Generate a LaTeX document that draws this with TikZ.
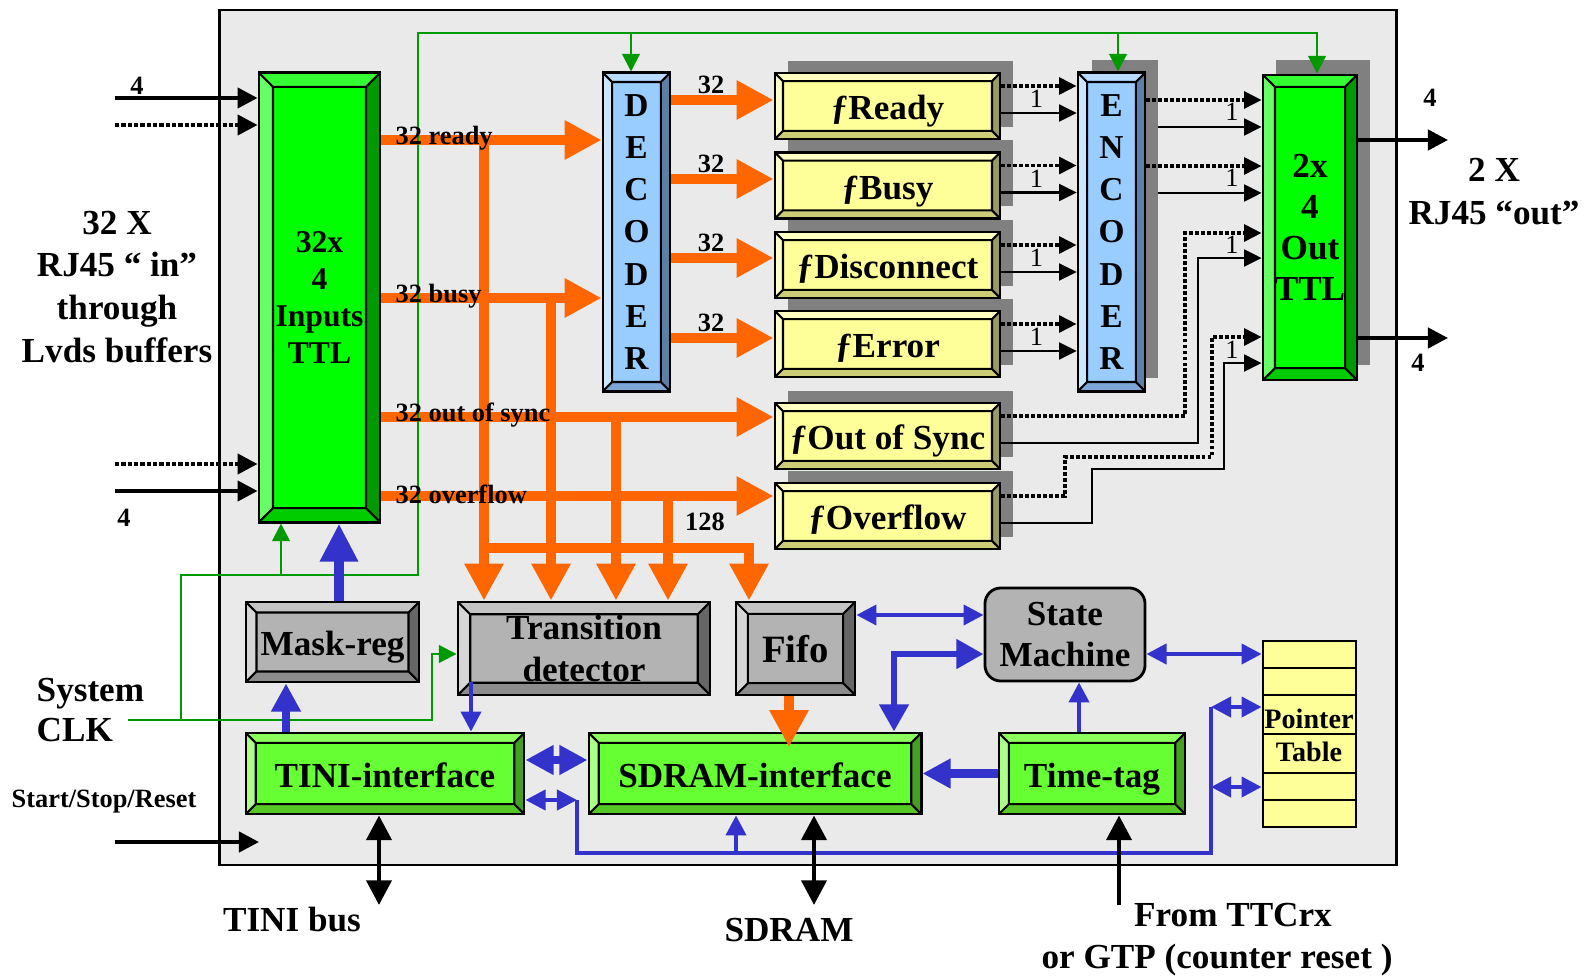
\documentclass[tikz,border=0pt]{standalone}
\usepackage{fontspec}
\setmainfont{Liberation Serif}
\usetikzlibrary{calc, positioning}
\usetikzlibrary{arrows.meta}

\definecolor{boardgray}{HTML}{EAEAEA}
\definecolor{shadowgray}{HTML}{808080}
\definecolor{busorange}{HTML}{FF6600}
\definecolor{linkblue}{HTML}{3333CC}
\definecolor{clkgreen}{HTML}{009900}
\definecolor{ttlface}{HTML}{00FF00}
\definecolor{ttltop}{HTML}{33FF33}
\definecolor{ttlleft}{HTML}{66FF66}
\definecolor{ttlright}{HTML}{009900}
\definecolor{ttlbot}{HTML}{00CC00}
\definecolor{codeface}{HTML}{99CCFF}
\definecolor{codetop}{HTML}{B8DBFF}
\definecolor{codeleft}{HTML}{CCE5FF}
\definecolor{coderight}{HTML}{5C7FA6}
\definecolor{codebot}{HTML}{7EA6D6}
\definecolor{flagface}{HTML}{FFFF99}
\definecolor{flagtop}{HTML}{FFFFC2}
\definecolor{flagleft}{HTML}{FFFFCC}
\definecolor{flagright}{HTML}{999966}
\definecolor{flagbot}{HTML}{CCCC77}
\definecolor{greyface}{HTML}{B3B3B3}
\definecolor{greytop}{HTML}{C4C4C4}
\definecolor{greyleft}{HTML}{D6D6D6}
\definecolor{greyright}{HTML}{666666}
\definecolor{greybot}{HTML}{8C8C8C}
\definecolor{ifface}{HTML}{66FF33}
\definecolor{iftop}{HTML}{8CFF5C}
\definecolor{ifleft}{HTML}{ADFF8A}
\definecolor{ifright}{HTML}{44A020}
\definecolor{ifbot}{HTML}{55C825}

\begin{document}
\begin{tikzpicture}[x=0.01cm,y=-0.01cm,
  bevel/.style n args={5}{path picture={
    \coordinate (nw) at (path picture bounding box.north west);
    \coordinate (ne) at (path picture bounding box.north east);
    \coordinate (sw) at (path picture bounding box.south west);
    \coordinate (se) at (path picture bounding box.south east);
    \fill[#2] (nw) -- (ne) -- ([shift={(-#1,-#1)}]ne) -- ([shift={(#1,-#1)}]nw) -- cycle;
    \fill[#3] (nw) -- ([shift={(#1,-#1)}]nw) -- ([shift={(#1,#1)}]sw) -- (sw) -- cycle;
    \fill[#4] (ne) -- (se) -- ([shift={(-#1,#1)}]se) -- ([shift={(-#1,-#1)}]ne) -- cycle;
    \fill[#5] (sw) -- ([shift={(#1,#1)}]sw) -- ([shift={(-#1,#1)}]se) -- (se) -- cycle;
    \draw[line width=0.6pt] ([shift={(#1,-#1)}]nw) rectangle ([shift={(-#1,#1)}]se)
      (nw) -- ++(#1,-#1) (ne) -- ++(-#1,-#1) (sw) -- ++(#1,#1) (se) -- ++(-#1,#1);
  }},
  ttlbox/.style={draw, line width=0.8pt, fill=ttlface, inner sep=0pt, align=center,
    bevel={#1}{ttltop}{ttlleft}{ttlright}{ttlbot}},
  codebox/.style={draw, line width=0.8pt, fill=codeface, inner sep=0pt, align=center,
    minimum width=0.67cm, minimum height=3.18cm, font=\fontsize{9.5}{12}\selectfont\bfseries,
    bevel={2.6pt}{codetop}{codeleft}{coderight}{codebot}},
  flagbox/.style={draw, line width=0.8pt, fill=flagface, inner sep=0pt,
    minimum width=2.25cm, minimum height=0.66cm, font=\fontsize{10}{12}\selectfont\bfseries,
    text height=7.9pt, text depth=0pt,
    bevel={2.3pt}{flagtop}{flagleft}{flagright}{flagbot}},
  greybox/.style={draw, line width=0.8pt, fill=greyface, inner sep=0pt, align=center,
    font=\fontsize{10}{12}\selectfont\bfseries,
    bevel={#1}{greytop}{greyleft}{greyright}{greybot}},
  ifbox/.style={draw, line width=0.8pt, fill=ifface, inner sep=0pt, minimum height=0.81cm,
    font=\fontsize{10}{12}\selectfont\bfseries, text height=7.9pt, text depth=0pt,
    bevel={2.8pt}{iftop}{ifleft}{ifright}{ifbot}},
  numlbl/.style={font=\fontsize{7.5}{9}\selectfont\bfseries, inner sep=0pt},
  onelbl/.style={font=\fontsize{7.5}{9}\selectfont, inner sep=0pt},
  biglbl/.style={font=\fontsize{10}{12.2}\selectfont\bfseries, align=center, inner sep=0pt},
  obus/.style={draw=busorange, line width=2.85pt, >={Triangle[length=10.5pt,width=10.5pt]}},
  bthin/.style={draw=linkblue, line width=1.15pt, >={Triangle[length=5.7pt,width=5.7pt]}},
  bmid/.style={draw=linkblue, line width=1.9pt, >={Triangle[length=7.7pt,width=8pt]}},
  bwide/.style={draw=linkblue, line width=2.3pt, >={Triangle[length=8pt,width=8pt]}},
  bfat/.style={draw=linkblue, line width=3pt, >={Triangle[length=10.8pt,width=10.2pt]}},
  clk/.style={draw=clkgreen, line width=0.6pt, >={Triangle[length=5pt,width=5pt]}},
  sig/.style={draw=black, line width=1.2pt, >={Triangle[length=5.7pt,width=5.7pt]}},
  sigdot/.style={sig, dash pattern=on 1.2pt off 0.6pt},
  busio/.style={draw=black, line width=1.4pt, >={Triangle[length=7pt,width=7pt]}},
  link/.style={draw=black, line width=0.65pt, >={Triangle[length=5pt,width=4.8pt]}},
  linkdot/.style={link, line width=1pt, dash pattern=on 1.1pt off 0.6pt}]

\useasboundingbox (0,0) rectangle (1585,976);
\node[draw, line width=0.7pt, fill=boardgray, minimum width=11.76cm, minimum height=8.55cm, inner sep=0pt] (board) at (808,437.5) {};

\foreach \t in {73,152.5,232,311,403,483}
  \fill[shadowgray] (788,\t-12) rectangle (1013,\t+54);
\fill[shadowgray] (1092,60) rectangle (1158,378);
\fill[shadowgray] (1276,60) rectangle (1370,365);

\node[ttlbox=4pt, minimum width=1.21cm, minimum height=4.49cm, font=\fontsize{9}{10.5}\selectfont\bfseries] (inTTL) at (319.5,297.5) {32x\\4\\Inputs\\TTL};
\node[codebox] (dec) at (636.5,232) {D\\E\\C\\O\\D\\E\\R};
\node[codebox] (enc) at (1111.5,232) {E\\N\\C\\O\\D\\E\\R};
\node[ttlbox=3.4pt, minimum width=0.94cm, minimum height=3.05cm, font=\fontsize{10}{11.7}\selectfont\bfseries] (outTTL) at (1310,227.5) {2x\\4\\Out\\TTL};
\node[flagbox] (fready) at (887.5,106) {ƒReady};
\node[flagbox] (fbusy) at (887.5,185.5) {ƒBusy};
\node[flagbox] (fdisc) at (887.5,265) {ƒDisconnect};
\node[flagbox] (ferr) at (887.5,344) {ƒError};
\node[flagbox] (fsync) at (887.5,436) {ƒOut of Sync};
\node[flagbox] (fover) at (887.5,516) {ƒOverflow};

\node[greybox=3pt, minimum width=1.73cm, minimum height=0.80cm, text height=7.9pt, text depth=0pt] (mask) at (332.5,642) {Mask-reg};
\node[greybox=3.5pt, minimum width=2.52cm, minimum height=0.93cm] (trans) at (584,648.5) {Transition\\detector};
\node[greybox=3.4pt, minimum width=1.19cm, minimum height=0.93cm, font=\fontsize{11}{13}\selectfont\bfseries, text height=8pt, text depth=0pt] (fifo) at (795.5,648.5) {Fifo};
\node[draw, line width=0.8pt, fill=greyface, rounded corners=4.5pt, inner sep=0pt, align=center,
  minimum width=1.60cm, minimum height=0.93cm, font=\fontsize{10}{11.4}\selectfont\bfseries] (sm) at (1065,634.5) {State\\Machine};
\node[ifbox, minimum width=2.78cm] (tini) at (385,773.5) {TINI-interface};
\node[ifbox, minimum width=3.32cm] (sdram) at (755,773.5) {SDRAM-interface};
\node[ifbox, minimum width=1.86cm] (ttag) at (1092,773.5) {Time-tag};
\node[draw, line width=0.8pt, fill=flagface, minimum width=0.93cm, minimum height=1.86cm, inner sep=0pt] (ptab) at (1309.5,734) {};
\foreach \y in {668,695,734,773,800}
  \draw[line width=0.8pt] (ptab.west |- 0,\y) -- (ptab.east |- 0,\y);
\node[font=\fontsize{8}{9.4}\selectfont\bfseries, align=center, inner sep=0pt] (ptabtxt) at (1309,735) {Pointer\\Table};

\coordinate (rdy) at (0,140);
\coordinate (bsy) at (0,298);
\coordinate (syn) at (0,417);
\coordinate (ovf) at (0,496);
\coordinate (fj) at (749,548);
\draw[obus,->] (inTTL.east |- rdy) -- (dec.west |- rdy);
\draw[obus,->] (inTTL.east |- bsy) -- (dec.west |- bsy);
\draw[obus,->] (inTTL.east |- syn) -- (fsync.west |- syn);
\draw[obus,->] (inTTL.east |- ovf) -- (fover.west |- ovf);
\draw[obus,->] (484,140) -- (484,0 |- trans.north);
\draw[obus,->] (551,298) -- (551,0 |- trans.north);
\draw[obus,->] (616,417) -- (616,0 |- trans.north);
\draw[obus,->] (668,496) -- (668,0 |- trans.north);
\draw[obus,->] (484,548) -- (fj) -- (fj |- fifo.north);
\foreach \f/\y in {fready/100,fbusy/179,fdisc/258,ferr/338} {
  \draw[obus,->] (dec.east |- 0,\y) -- (\f.west |- 0,\y);
  \node[numlbl] at (711,\y-15) {32};
}
\draw[obus,->] (789,0 |- fifo.south) -- (789,747);

\foreach \f in {fready,fbusy,fdisc,ferr,fsync,fover} {
  \coordinate (\f-d) at ($(\f.east)+(0,-20)$);
  \coordinate (\f-s) at ($(\f.east)+(0,7)$);
}
\foreach \f in {fready,fbusy,fdisc,ferr} {
  \draw[linkdot,->] (\f-d) -- (\f-d -| enc.west);
  \draw[link,->] (\f-s) -- (\f-s -| enc.west);
  \node[onelbl] at ($(\f.east)+(35,-7)$) {1};
}
\draw[linkdot,->] (enc.east |- 0,100) -- (outTTL.west |- 0,100);
\draw[link,->] (enc.east |- 0,127) ++(12,0) -- (outTTL.west |- 0,127);
\draw[linkdot,->] (enc.east |- 0,166) -- (outTTL.west |- 0,166);
\draw[link,->] (enc.east |- 0,193) ++(12,0) -- (outTTL.west |- 0,193);
\draw[linkdot,->] (fsync-d) -| (1185,233) -- (outTTL.west |- 0,233);
\draw[link,->] (fsync-s) -| (1198,258) -- (outTTL.west |- 0,258);
\draw[linkdot,->] (fover-d) -| (1065,457) -| (1212,337) -- (outTTL.west |- 0,337);
\draw[link,->] (fover-s) -| (1092,469) -| (1224,363) -- (outTTL.west |- 0,363);
\foreach \y in {112,178,245,350}
  \node[onelbl] at (1232,\y) {1};

\coordinate (clkin) at (128,720);
\coordinate (ck1) at (181,720);
\coordinate (ck2) at (418,575);
\coordinate (ck3) at (418,33);
\coordinate (ckdec) at (631,33);
\coordinate (ckenc) at (1118,33);
\coordinate (ckout) at (1317,33);
\draw[clk,->] (clkin) -| (432,654) -- (trans.west |- 0,654);
\draw[clk,->] (ck1) |- (ck2) -- (ck3) -- (ckout) -- (ckout |- outTTL.north);
\draw[clk,->] (ckdec) -- (ckdec |- dec.north);
\draw[clk,->] (ckenc) -- (ckenc |- enc.north);
\draw[clk,->] (281,575) -- (281,0 |- inTTL.south);

\draw[bfat,->] (339,0 |- mask.north) -- (339,0 |- inTTL.south);
\draw[bwide,->] (286,0 |- tini.north) -- (286,0 |- mask.south);
\draw[bthin,->] (471,682) -- (471,0 |- tini.north);
\draw[bwide,<->] (tini.east |- 0,760) -- (sdram.west |- 0,760);
\draw[bthin,<->] (tini.east |- 0,800) -- (577,800);
\draw[bthin] (577,800) |- (1211,853) -- (1211,707);
\draw[bthin,<->] (1211,707) -- (ptab.west |- 0,707);
\draw[bthin,<->] (1211,787) -- (ptab.west |- 0,787);
\draw[bthin,->] (736,853) -- (736,0 |- sdram.south);
\draw[bthin,<->] (fifo.east |- 0,615) -- (sm.west |- 0,615);
\draw[bmid,<->] (sm.west |- 0,654) -| (894,0 |- sdram.north);
\draw[bthin,<->] (sm.east |- 0,654) -- (ptab.west |- 0,654);
\draw[bthin,->] (1079,0 |- ttag.north) -- (1079,0 |- sm.south);
\draw[bwide,->] (ttag.west) -- (sdram.east);

\coordinate (in1) at (115,98);
\coordinate (in2) at (115,125);
\coordinate (in3) at (115,464);
\coordinate (in4) at (115,491);
\coordinate (out1) at (1448,140);
\coordinate (out2) at (1448,338);
\coordinate (ssr) at (115,842);
\coordinate (ssrend) at (259,842);
\coordinate (tinibus) at (379,905);
\coordinate (sdrbus) at (814,905);
\coordinate (ttcrx) at (1119,905);
\draw[sig,->] (in1) -- (in1 -| inTTL.west);
\draw[sigdot,->] (in2) -- (in2 -| inTTL.west);
\draw[sigdot,->] (in3) -- (in3 -| inTTL.west);
\draw[sig,->] (in4) -- (in4 -| inTTL.west);
\draw[sig,->] (out1 -| outTTL.east) -- (out1);
\draw[sig,->] (out2 -| outTTL.east) -- (out2);
\draw[sig,->] (ssr) -- (ssrend);
\draw[busio,<->] (tinibus |- tini.south) -- (tinibus);
\draw[busio,<->] (sdrbus |- sdram.south) -- (sdrbus);
\draw[busio,->] (ttcrx) -- (ttcrx |- ttag.south);

\node[numlbl, anchor=west] at (395,138) {32 ready};
\node[numlbl, anchor=west] at (395,296) {32 busy};
\node[numlbl, anchor=west] at (395,415) {32 out of sync};
\node[numlbl, anchor=west] at (395,494) {32 overflow};
\node[numlbl] at (705,522) {128};
\node[numlbl] at (137,86) {4};
\node[numlbl] at (124,518) {4};
\node[numlbl] at (1430,98) {4};
\node[numlbl] at (1418,363) {4};
\node[biglbl] at (117,287) {32 X\\RJ45 “ in”\\through\\Lvds buffers};
\node[biglbl] at (1494,192) {2 X\\RJ45 “out”};
\node[biglbl, align=left, anchor=west, font=\fontsize{10}{11.4}\selectfont\bfseries] at (36,710) {System\\CLK};
\node[numlbl] at (104,802) {Start/Stop/Reset};
\node[biglbl] at (292,920) {TINI bus};
\node[biglbl] at (789,930) {SDRAM};
\node[biglbl] at (1233,915) {From TTCrx};
\node[biglbl] at (1217,960) {or GTP (counter reset )};
\end{tikzpicture}
\end{document}
